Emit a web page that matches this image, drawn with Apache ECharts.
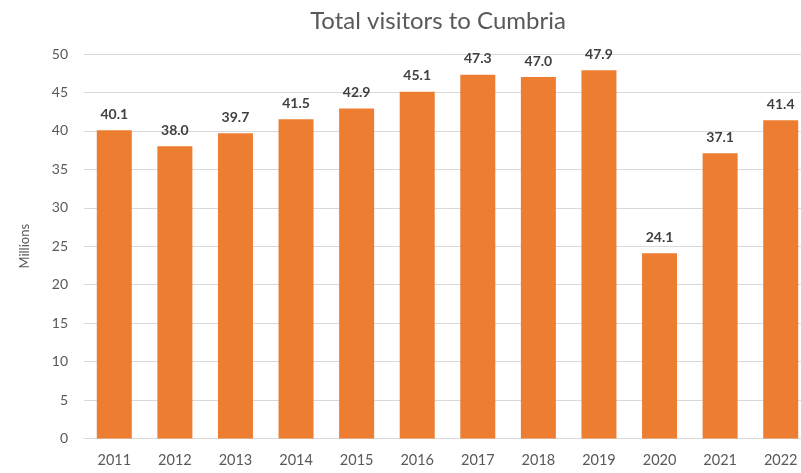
<!DOCTYPE html>
<html><head><meta charset="utf-8">
<script src="https://cdn.jsdelivr.net/npm/echarts@6/dist/echarts.min.js"></script>
<style>html,body{margin:0;padding:0;background:#fff;overflow:hidden}#c{width:811px;height:473px}</style>
</head><body><div id="c"></div>
<script>
var years = ['2011','2012','2013','2014','2015','2016','2017','2018','2019','2020','2021','2022'];
var visitors = [40.1, 38.0, 39.7, 41.5, 42.9, 45.1, 47.3, 47.0, 47.9, 24.1, 37.1, 41.4];
var yTicks = {min: 0, max: 50, interval: 5};
var chart = echarts.init(document.getElementById('c'));
chart.setOption({
  animation: false,
  textStyle: {fontFamily: 'Lato'},
  title: {text: 'Total visitors to Cumbria', left: 433, textAlign: 'center', top: 4,
    textStyle: {fontFamily: 'Lato', fontSize: 24, fontWeight: 'normal', color: '#595959'}},
  grid: {left: 84, right: 0, top: 54, bottom: 34.5},
  xAxis: {type: 'category', data: years,
    axisLine: {lineStyle: {color: '#d9d9d9'}}, axisTick: {show: false},
    axisLabel: {color: '#595959', fontSize: 14.5, margin: 14}},
  yAxis: {type: 'value', min: yTicks.min, max: yTicks.max, interval: yTicks.interval,
    name: 'Millions', nameLocation: 'middle', nameGap: 53, nameRotate: 90,
    nameTextStyle: {color: '#595959', fontSize: 13},
    axisLine: {show: false}, axisTick: {show: false},
    axisLabel: {color: '#595959', fontSize: 14, margin: 16},
    splitLine: {lineStyle: {color: '#d9d9d9'}}},
  series: [{type: 'bar', data: visitors, barWidth: 35,
    itemStyle: {color: '#ED7D31'},
    label: {show: true, position: 'top', distance: 9, color: '#404040', fontSize: 14, fontWeight: 'bold',
      formatter: function(p){return p.value.toFixed(1);}}}]
});
</script></body></html>
